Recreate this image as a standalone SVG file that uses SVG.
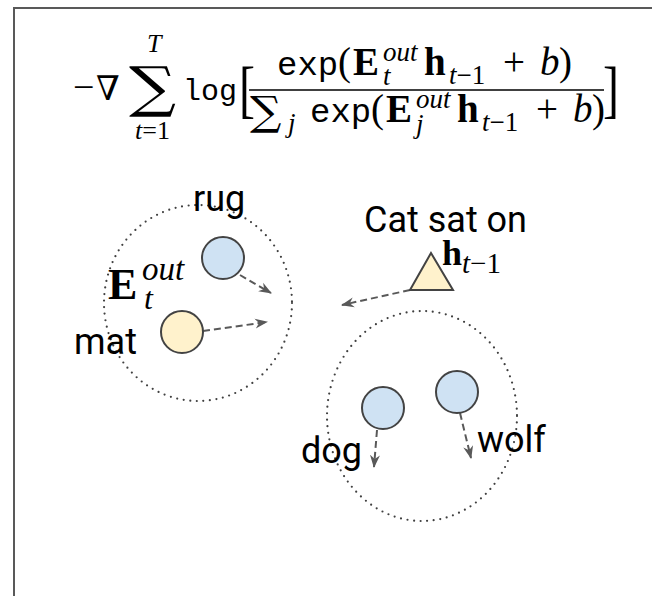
<svg xmlns="http://www.w3.org/2000/svg" width="652" height="596" viewBox="0 0 652 596">
<style>
.frame{fill:none;stroke:#595959;stroke-width:2}
.m{font-family:"Liberation Serif","DejaVu Serif",serif;fill:#000}
.mi{font-family:"Liberation Serif","DejaVu Serif",serif;font-style:italic;fill:#000}
.mb{font-family:"Liberation Serif","DejaVu Serif",serif;font-weight:bold;fill:#000}
.ds{font-family:"DejaVu Serif","Liberation Serif",serif;fill:#000}
.tt{font-family:"Liberation Mono","DejaVu Sans Mono",monospace;fill:#000}
.lbl{font-family:Roboto,"Liberation Sans",sans-serif;font-size:36px;fill:#000}
.grp{fill:none;stroke:#404040;stroke-width:2.2;stroke-linecap:round;stroke-dasharray:0 6.6}
.blue{fill:#cfe2f3;stroke:#434343;stroke-width:2}
.yel{fill:#fff2cc;stroke:#434343;stroke-width:2}
.edge{fill:none;stroke:#595959;stroke-width:2;stroke-dasharray:7 4;marker-end:url(#ah)}
</style>
<defs>
<marker id="ah" markerUnits="userSpaceOnUse" markerWidth="14" markerHeight="12" refX="12" refY="5" orient="auto" viewBox="0 0 14 10">
<path d="M0,0 L13,5 L0,10 L4,5 z" fill="#595959"/>
</marker>
</defs>
<rect class="frame" x="14" y="8" width="700" height="700"/>

<g id="formula">
<text class="m" x="73" y="100" font-size="38">−</text>
<text class="ds" x="96" y="100" font-size="34">∇</text>
<text class="ds" transform="translate(129,106) scale(1.03,0.86)" font-size="64">∑</text>
<text class="mi" x="147" y="52" font-size="26">T</text>
<text x="135" y="139" font-size="26"><tspan class="mi">t</tspan><tspan class="m">=1</tspan></text>
<text class="tt" x="183" y="100" font-size="30">log</text>
<text class="m" transform="translate(239,110) scale(0.75,1)" font-size="64">[</text>
<line x1="249" y1="90" x2="604" y2="90" stroke="#000" stroke-width="1.6"/>
<g id="num">
<text class="tt" x="277" y="75" font-size="34">exp</text>
<text class="m" x="338" y="75" font-size="39">(</text>
<text class="mb" x="353" y="75" font-size="39">E</text>
<text class="mi" x="383" y="61" font-size="27">out</text>
<text class="mi" x="383" y="85" font-size="27">t</text>
<text class="mb" x="424" y="75" font-size="39">h</text>
<text x="449" y="84" font-size="27"><tspan class="mi">t</tspan><tspan class="m">−1</tspan></text>
<text class="m" x="503" y="75" font-size="39">+</text>
<text class="mi" x="540" y="75" font-size="39">b</text>
<text class="m" x="559" y="75" font-size="39">)</text>
</g>
<g id="den">
<text class="ds" transform="translate(250,125) scale(1.1,1)" font-size="40">∑</text>
<text class="mi" x="288" y="132" font-size="27">j</text>
<text class="tt" x="310" y="122" font-size="34">exp</text>
<text class="m" x="371" y="122" font-size="39">(</text>
<text class="mb" x="386" y="122" font-size="39">E</text>
<text class="mi" x="416" y="108" font-size="27">out</text>
<text class="mi" x="416" y="133" font-size="27">j</text>
<text class="mb" x="457" y="122" font-size="39">h</text>
<text x="482" y="131" font-size="27"><tspan class="mi">t</tspan><tspan class="m">−1</tspan></text>
<text class="m" x="536" y="122" font-size="39">+</text>
<text class="mi" x="573" y="122" font-size="39">b</text>
<text class="m" x="592" y="122" font-size="39">)</text>
</g>
<text class="m" transform="translate(603,110) scale(0.75,1)" font-size="64">]</text>
</g>

<g id="groups">
<ellipse id="group-left" class="grp" cx="198" cy="303" rx="94" ry="98"/>
<ellipse id="group-right" class="grp" cx="422" cy="416" rx="95" ry="105"/>
</g>

<g id="label-E">
<text class="mb" x="108" y="299" font-size="44">E</text>
<text class="mi" x="142" y="280" font-size="33">out</text>
<text class="mi" x="144" y="309" font-size="32">t</text>
</g>

<g id="connectors">
<line class="edge" x1="240" y1="275" x2="271" y2="293"/>
<line class="edge" x1="203" y1="331" x2="267" y2="322"/>
<line class="edge" x1="410" y1="290" x2="342" y2="305"/>
<line class="edge" x1="377" y1="430" x2="374" y2="467"/>
<line class="edge" x1="460" y1="413" x2="471" y2="458"/>
</g>

<g id="node-rug">
<circle class="blue" cx="223" cy="258" r="21"/>
<text class="lbl" x="193" y="211">rug</text>
</g>
<g id="node-mat">
<circle class="yel" cx="182" cy="332" r="21"/>
<text class="lbl" x="74" y="354">mat</text>
</g>
<g id="node-context">
<polygon class="yel" points="431,253 453,290 410,290"/>
<text class="lbl" x="364" y="232">Cat sat on</text>
<text class="mb" x="442" y="265" font-size="36">h</text>
<text x="462" y="273" font-size="29"><tspan class="mi">t</tspan><tspan class="m">−1</tspan></text>
</g>
<g id="node-dog">
<circle class="blue" cx="383" cy="408" r="21"/>
<text class="lbl" x="301" y="463">dog</text>
</g>
<g id="node-wolf">
<circle class="blue" cx="457" cy="392" r="21"/>
<text class="lbl" x="477" y="452">wolf</text>
</g>
</svg>
